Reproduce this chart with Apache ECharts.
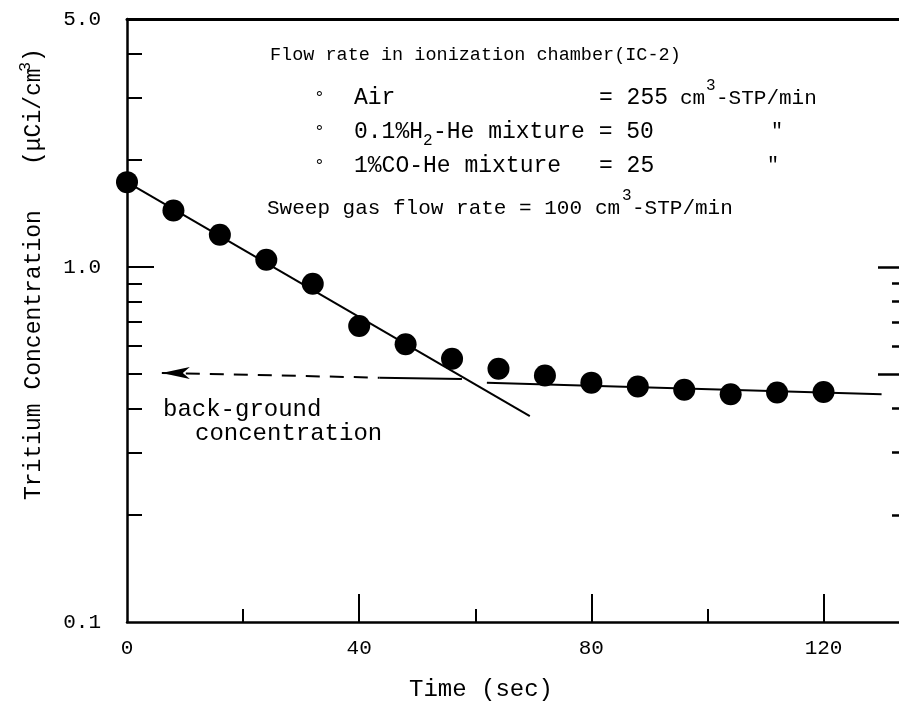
<!DOCTYPE html>
<html><head><meta charset="utf-8">
<script src="https://cdn.jsdelivr.net/npm/echarts@6/dist/echarts.min.js"></script>
<style>html,body{margin:0;padding:0;background:#fff}#c{width:899px;height:706px}</style>
</head><body><div id="c"></div>
<script>
// ---- data ----
const timeSec = [0, 8, 16, 24, 32, 40, 48, 56, 64, 72, 80, 88, 96, 104, 112, 120];
const concentration = [1.735, 1.444, 1.234, 1.049, 0.898, 0.682, 0.606, 0.552, 0.517, 0.495, 0.4725, 0.461, 0.451, 0.438, 0.443, 0.4445];
const decayFitX = [0, 69.4];
const decayFitY = [1.735, 0.38];
const plateauFitX = [62, 130];
const plateauFitY = [0.4725, 0.438];
const bgDashX = [6.0, 43.5];
const bgDashY = [0.503, 0.488];
const bgSolidX = [43.5, 57.7];
const bgSolidY = [0.488, 0.484];
const xLabelValues = [0, 40, 80, 120];
const xLongTicks = [40, 80, 120];
const xShortTicks = [20, 60, 100];
const yLabelValues = [0.1, 1.0, 5.0];
const yLongTicks = [1];
const yShortTicks = [0.2, 0.3, 0.4, 0.5, 0.6, 0.7, 0.8, 0.9, 2, 3, 4];
const rightLongTicks = [1, 0.5];
const rightShortTicks = [0.2, 0.3, 0.4, 0.6, 0.7, 0.8, 0.9];

const FONT = 'Liberation Mono';
const zip = (xs, ys) => xs.map((x, i) => [x, ys[i]]);

const chart = echarts.init(document.getElementById('c'), null, {renderer: 'canvas'});

const LINE = {color: '#000', width: 2.5};
const TICK = {color: '#000', width: 2};
const HIDDEN_LINE = {show: false, onZero: false};
const baseX = {type: 'value', min: 0, max: 133, splitLine: {show: false}, axisLine: HIDDEN_LINE, axisLabel: {show: false}, axisTick: {show: false}};
const baseY = {type: 'log', logBase: 10, min: 0.1, max: 5, splitLine: {show: false}, axisLine: HIDDEN_LINE, axisLabel: {show: false}, axisTick: {show: false}};

const txt = (x, y, s, size, extra) => Object.assign({
  type: 'text', x: x, y: y,
  style: {text: s, fill: '#000', font: size + 'px "' + FONT + '"', textAlign: 'left', textVerticalAlign: 'middle'}
}, extra || {});

chart.setOption({
  animation: false,
  backgroundColor: '#fff',
  grid: {left: 127, top: 19, right: 0, bottom: 84, outerBoundsMode: 'none', containLabel: false},
  xAxis: [
    Object.assign({}, baseX, {position: 'bottom',
      axisLine: {show: true, onZero: false, lineStyle: LINE},
      axisTick: {show: true, inside: true, length: 13, customValues: xShortTicks, lineStyle: TICK},
      axisLabel: {show: true, customValues: xLabelValues, margin: 16, color: '#000', fontFamily: FONT, fontSize: 21}}),
    Object.assign({}, baseX, {position: 'bottom', offset: 0,
      axisTick: {show: true, inside: true, length: 28, customValues: xLongTicks, lineStyle: TICK}}),
    Object.assign({}, baseX, {position: 'top', offset: 0,
      axisLine: {show: true, onZero: false, lineStyle: {color: '#000', width: 3}}})
  ],
  yAxis: [
    Object.assign({}, baseY, {position: 'left',
      axisLine: {show: true, onZero: false, lineStyle: LINE},
      axisTick: {show: true, inside: true, length: 27, customValues: yLongTicks, lineStyle: TICK},
      axisLabel: {show: true, customValues: yLabelValues, margin: 26, color: '#000', fontFamily: FONT, fontSize: 21,
        formatter: v => Number(v).toFixed(1)}}),
    Object.assign({}, baseY, {position: 'left', offset: 0,
      axisTick: {show: true, inside: true, length: 15, customValues: yShortTicks, lineStyle: TICK}}),
    Object.assign({}, baseY, {position: 'right', offset: 0,
      axisTick: {show: true, inside: true, length: 21, customValues: rightLongTicks, lineStyle: {color: '#000', width: 2.5}}}),
    Object.assign({}, baseY, {position: 'right', offset: 0,
      axisTick: {show: true, inside: true, length: 7, customValues: rightShortTicks, lineStyle: {color: '#000', width: 2.5}}})
  ],
  series: [
    {type: 'line', data: zip(decayFitX, decayFitY), symbol: 'none', lineStyle: {color: '#000', width: 2}, z: 2},
    {type: 'line', data: zip(plateauFitX, plateauFitY), symbol: 'none', lineStyle: {color: '#000', width: 2}, z: 2},
    {type: 'line', data: zip(bgDashX, bgDashY).map((p, i) => i === 0 ? {value: p, symbol: 'arrow', symbolSize: [9, 28], symbolRotate: 90} : {value: p, symbol: 'none'}),
      showSymbol: true, lineStyle: {color: '#000', width: 2, type: [14, 10]}, itemStyle: {color: '#000', opacity: 1}, z: 2},
    {type: 'line', data: zip(bgSolidX, bgSolidY), symbol: 'none', lineStyle: {color: '#000', width: 2}, z: 2},
    {type: 'scatter', data: zip(timeSec, concentration), symbol: 'circle', symbolSize: 22, itemStyle: {color: '#000', opacity: 1}, z: 3}
  ],
  graphic: [
    txt(270, 55, 'Flow rate in ionization chamber(IC-2)', 18.5),
    txt(314, 98, '°', 18), txt(314, 132, '°', 18), txt(314, 166, '°', 18),
    txt(354, 98, 'Air', 23),
    txt(599, 98, '= 255', 23), txt(680, 98, 'cm', 21), txt(706, 86, '3', 16), txt(716, 98, '-STP/min', 21),
    txt(354, 132, '0.1%H', 23), txt(423, 141, '2', 16), txt(433, 132, '-He mixture = 50', 23),
    txt(771, 132, '"', 20),
    txt(354, 166, '1%CO-He mixture', 23), txt(599, 166, '= 25', 23), txt(767, 166, '"', 20),
    txt(267, 208, 'Sweep gas flow rate = 100', 21), txt(595, 208, 'cm', 21), txt(622, 196, '3', 16), txt(632, 208, '-STP/min', 21),
    txt(163, 410, 'back-ground', 24),
    txt(195, 434, 'concentration', 24),
    {type: 'text', x: 481, y: 690, style: {text: 'Time (sec)', fill: '#000', font: '24px "' + FONT + '"', textAlign: 'center', textVerticalAlign: 'middle'}},
    txt(34, 500, 'Tritium Concentration', 23, {rotation: Math.PI / 2}),
    txt(34, 165, '(μCi/cm', 23, {rotation: Math.PI / 2}),
    txt(25, 72, '3', 17, {rotation: Math.PI / 2}),
    txt(34, 62, ')', 23, {rotation: Math.PI / 2})
  ]
});
</script></body></html>
